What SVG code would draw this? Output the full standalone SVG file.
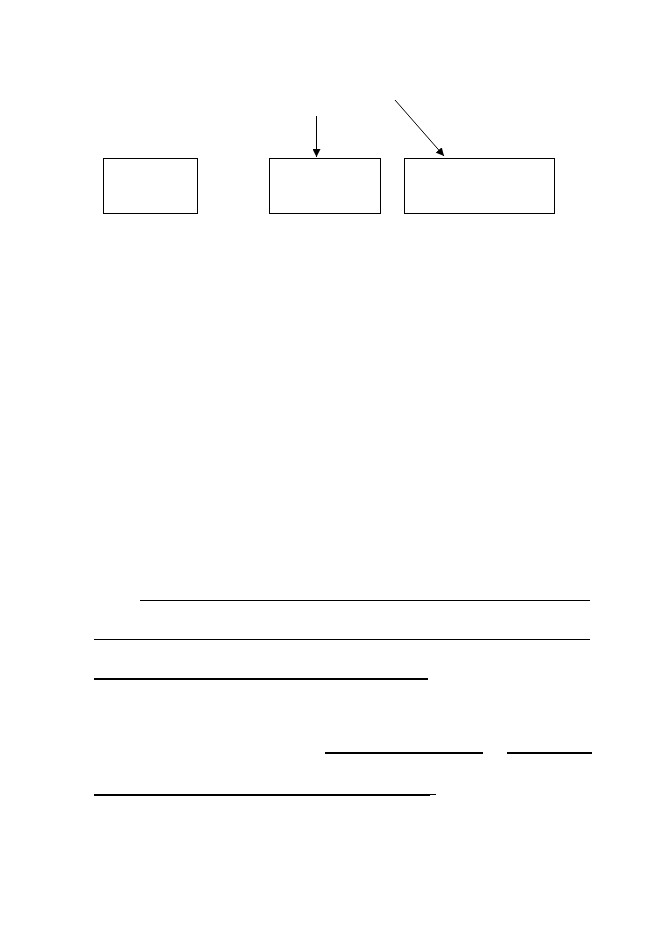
<svg xmlns="http://www.w3.org/2000/svg" width="655" height="926" viewBox="0 0 655 926">
<defs>
<marker id="ah" viewBox="0 0 10 10" refX="10" refY="5" markerWidth="8" markerHeight="8" markerUnits="userSpaceOnUse" orient="auto">
<path d="M0,0 L10,5 L0,10 z" fill="#000"/>
</marker>
<style>
.box{fill:#fff;stroke:#000;stroke-width:1}
.c{stroke:#000;stroke-width:1;fill:none}
.u1{stroke:#000;stroke-width:1}
.u2{stroke:#000;stroke-width:2}
</style>
</defs>
<rect width="655" height="926" fill="#fff"/>
<g id="node1"><rect class="box" x="103.5" y="158.5" width="94" height="55"/></g>
<g id="node2"><rect class="box" x="269.5" y="158.5" width="111" height="55"/></g>
<g id="node3"><rect class="box" x="404.5" y="158.5" width="150" height="55"/></g>
<g id="connectors">
<line class="c" x1="316.5" y1="116" x2="316.5" y2="157" marker-end="url(#ah)"/>
<line class="c" x1="395" y1="100" x2="444" y2="156" marker-end="url(#ah)"/>
</g>
<g id="lines">
<line class="u1" x1="140" y1="600.5" x2="590" y2="600.5"/>
<line class="u1" x1="94" y1="639.5" x2="590" y2="639.5"/>
<line class="u2" x1="94" y1="679" x2="428" y2="679"/>
<line class="u2" x1="325" y1="753" x2="483" y2="753"/>
<line class="u2" x1="507" y1="753" x2="592" y2="753"/>
<line class="u2" x1="94" y1="795" x2="430" y2="795"/>
<line class="u1" x1="430" y1="794.5" x2="436" y2="794.5"/>
</g>
</svg>
